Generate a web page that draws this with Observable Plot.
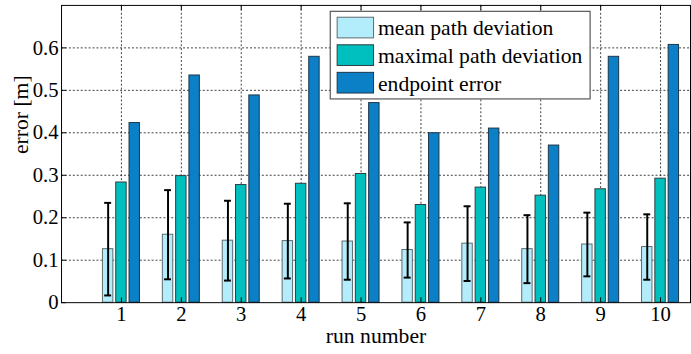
<!DOCTYPE html>
<html>
<head>
<meta charset="utf-8">
<script src="https://cdn.jsdelivr.net/npm/d3@7"></script>
<script src="https://cdn.jsdelivr.net/npm/@observablehq/plot@0.6"></script>
<style>
  html, body { margin: 0; padding: 0; background: #fff; overflow: hidden; width: 691px; height: 354px; }
  #chart svg { display: block; }
</style>
</head>
<body>
<div id="chart"></div>
<script>
// Error per test run: mean/maximal deviation from the planned path and final endpoint error [m]
const runs = [1, 2, 3, 4, 5, 6, 7, 8, 9, 10];
const meanDeviation = [0.126, 0.160, 0.146, 0.145, 0.144, 0.124, 0.139, 0.126, 0.137, 0.131];
const meanDeviationStd = [0.109, 0.105, 0.094, 0.088, 0.090, 0.065, 0.088, 0.080, 0.075, 0.077];
const maxDeviation = [0.283, 0.298, 0.277, 0.280, 0.303, 0.230, 0.271, 0.252, 0.267, 0.292];
const endpointError = [0.423, 0.535, 0.488, 0.579, 0.470, 0.399, 0.410, 0.370, 0.579, 0.607];

const seriesNames = ["mean path deviation", "maximal path deviation", "endpoint error"];
const seriesValues = [meanDeviation, maxDeviation, endpointError];
const seriesColors = ["#b3ecfb", "#00c0bf", "#0b80c6"];
const seriesEdges = ["#5c6a70", "#2e3c40", "#1c3448"];
const yTicks = [0, 0.1, 0.2, 0.3, 0.4, 0.5, 0.6];

// grouped-bar layout in run units
const groupOffset = [-0.222, 0, 0.222];
const halfBar = 0.087;
const capHalf = 0.058;

const bars = seriesValues.map((vals, k) => runs.map((run, i) => ({run, k, value: vals[i]})));
const errRows = runs.map((run, i) => ({run, mean: meanDeviation[i], sd: meanDeviationStd[i]}));

const grid = {stroke: "#1a1a1a", strokeOpacity: 0.85, strokeDasharray: "2,2", strokeWidth: 1};
const serif = '"Liberation Serif", "Times New Roman", serif';

const chart = Plot.plot({
  width: 702,
  height: 354,
  marginLeft: 62,
  marginRight: 1,
  marginTop: 5,
  marginBottom: 47,
  style: {fontFamily: serif, fontSize: "21px", color: "#000", background: "#fff"},
  x: {domain: [0, 10.5]},
  y: {domain: [0, 0.7]},
  marks: [
    Plot.gridX(runs, grid),
    Plot.gridY(yTicks.filter(t => t > 0), grid),
    ...bars.map((rows, k) => Plot.rectY(rows, {
      x1: d => d.run + groupOffset[d.k] - halfBar,
      x2: d => d.run + groupOffset[d.k] + halfBar,
      y1: 0,
      y2: "value",
      fill: seriesColors[k],
      stroke: seriesEdges[k],
      strokeWidth: 1
    })),
    // standard deviation of the mean path deviation
    Plot.ruleX(errRows, {x: d => d.run + groupOffset[0], y1: d => d.mean - d.sd, y2: d => d.mean + d.sd, stroke: "#000", strokeWidth: 2}),
    Plot.ruleY(errRows, {y: d => d.mean - d.sd, x1: d => d.run + groupOffset[0] - capHalf, x2: d => d.run + groupOffset[0] + capHalf, stroke: "#000", strokeWidth: 2}),
    Plot.ruleY(errRows, {y: d => d.mean + d.sd, x1: d => d.run + groupOffset[0] - capHalf, x2: d => d.run + groupOffset[0] + capHalf, stroke: "#000", strokeWidth: 2}),
    // inward tick marks
    Plot.ruleX(runs, {x: d => d, y1: 0, y2: 0, insetBottom: 5, stroke: "#000"}),
    Plot.ruleX(runs, {x: d => d, y1: 0.7, y2: 0.7, insetTop: 5, stroke: "#000"}),
    Plot.ruleY(yTicks, {y: d => d, x1: 0, x2: 0, insetRight: -5, stroke: "#000"}),
    Plot.frame({stroke: "#000", strokeWidth: 1}),
    Plot.axisX({ticks: runs, tickSize: 0, tickPadding: 4, tickFormat: d => String(d), label: null, fontSize: 21}),
    Plot.axisY({ticks: yTicks, tickSize: 0, tickPadding: 3, tickFormat: d3.format("~g"), label: null, fontSize: 21}),
    Plot.text(["run number"], {frameAnchor: "bottom", dy: 41, lineAnchor: "bottom", fontSize: 22, fill: "#000"}),
    Plot.text(["error [m]"], {frameAnchor: "left", dx: -34, rotate: -90, lineAnchor: "bottom", fontSize: 22, fill: "#000"})
  ]
});

document.getElementById("chart").append(chart);

// legend box in the upper middle of the axes
const svg = d3.select(chart);
const lg = svg.append("g")
  .attr("font-family", serif)
  .attr("font-size", 22)
  .attr("text-anchor", "start");
lg.append("rect").attr("x", 335.5).attr("y", 11.5).attr("width", 264).attr("height", 89)
  .attr("fill", "#fff").attr("stroke", "#555").attr("stroke-width", 1.2);
seriesNames.forEach((name, k) => {
  lg.append("rect").attr("x", 342.5).attr("y", 17.5 + 28 * k).attr("width", 37).attr("height", 21)
    .attr("fill", seriesColors[k]).attr("stroke", seriesEdges[k]).attr("stroke-width", 1);
  lg.append("text").attr("x", 384).attr("y", 36 + 28 * k).attr("fill", "#000")
    .attr("text-anchor", "start").text(name);
});
</script>
</body>
</html>
